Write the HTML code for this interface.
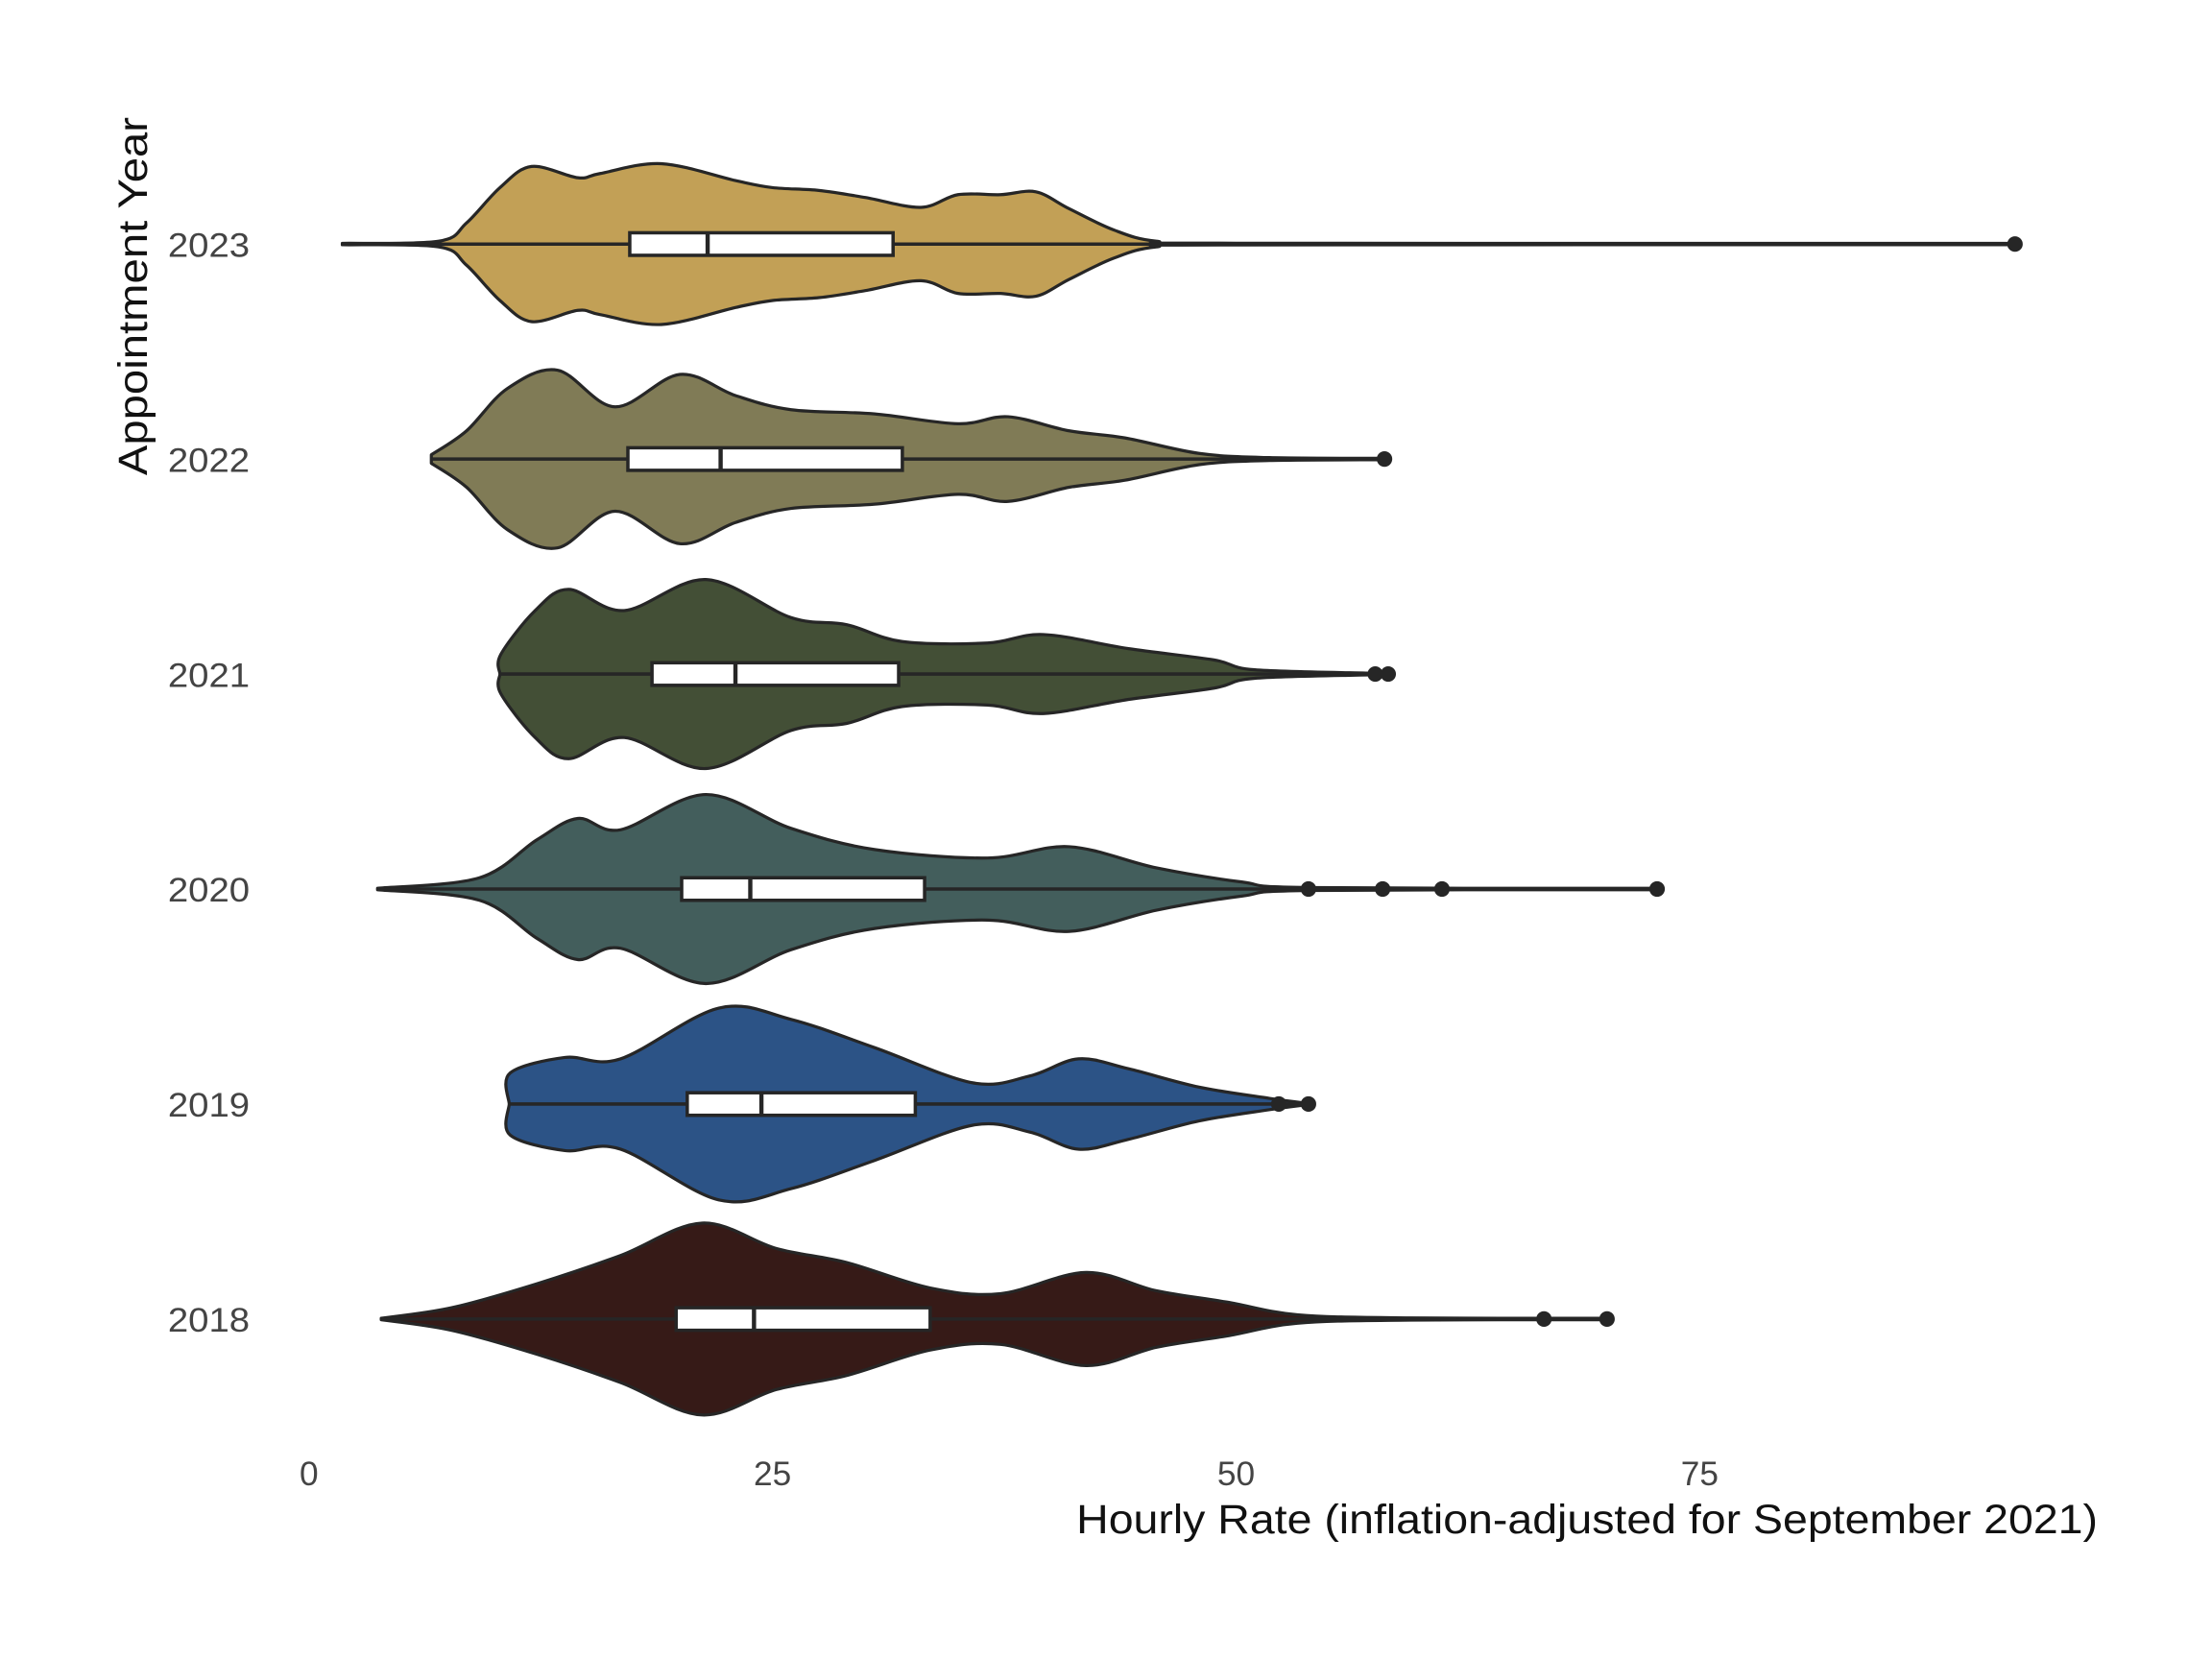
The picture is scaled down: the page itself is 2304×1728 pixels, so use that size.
<!DOCTYPE html>
<html><head><meta charset="utf-8"><style>
html,body{margin:0;padding:0;background:#fff;}
svg{display:block;}
text{font-family:"Liberation Sans",sans-serif;}
</style></head><body>
<svg id="chart" width="2304" height="1728" viewBox="0 0 1568 1176" xmlns="http://www.w3.org/2000/svg">
<g id="plot"></g>
<g id="xticks"></g>
<g id="yticks"></g>
<text x="1487" y="1087" text-anchor="end" font-size="29" fill="#111" textLength="724" lengthAdjust="spacingAndGlyphs">Hourly Rate (inflation-adjusted for September 2021)</text>
<text transform="translate(104,210) rotate(-90)" text-anchor="middle" font-size="29" fill="#111" textLength="254" lengthAdjust="spacingAndGlyphs">Appointment Year</text>
</svg>
<script>
const years = ["2023","2022","2021","2020","2019","2018"];
const colors = ["#C2A056","#807B56","#434F36","#435E5C","#2C5386","#361A17"];
const xTicks = [0,25,50,75];
const rates2023 = [1.8,7,8.5,10.3,12,14.5,15.7,19,23,25,27.5,30,33,35,37.3,39.2,41,43.4,45.7,50,92];
const dens2023  = [0.5,2,15,40,55,47,50,57,45,40,38,33,26,35,35,37,25,10,2,0.6,0.5];
const rates2022 = [6.6,8.5,10.7,13.4,16.5,20,23,26,30.5,35,37.7,41,44,48,51.8,58];
const dens2022  = [3,20,50,63,37,60,45,35,32,25,30,20,15,4,1,0.5];
const rates2021 = [10.3,10.35,12.2,14,17,21.4,26,29,32,36.6,39.6,44.2,48.8,51,57.5];
const dens2021  = [0,14,45,60,45,67,40,35,23,22,28,18,10,3,0.5];
const rates2020 = [3.7,9.2,12.3,14.5,16.8,21.4,26,30.5,36.6,41,45.7,50.3,54,72.7];
const dens2020  = [0.5,8,35,50,42,67,43,28,22,30,15,5,1,0.5];
const rates2019 = [10.8,10.85,13.8,16.8,22.1,26,30.5,35.8,38.9,41.5,44.2,48,51.8,53.8];
const dens2019  = [0,22,33,32,68,60,40,15,20,32,25,12,4,0.5];
const rates2018 = [3.9,7.7,12.3,16.8,21.2,25.2,29,33.5,37.3,41.9,45.7,49.5,53.3,59.4,70];
const dens2018  = [0.5,8,25,45,68,50,40,22,18,33,20,12,3,0.8,0.5];
const q1 = [17.3,17.2,18.5,20.1,20.4,19.8];
const med = [21.5,22.2,23.0,23.8,24.4,24.0];
const q3 = [31.5,32.0,31.8,33.2,32.7,33.5];
const wLo = [1.8,6.6,10.3,3.7,10.8,3.9];
const wHi = [92,58,57.5,72.7,53.8,70];
const outliers = [[92],[58],[57.5,58.2],[53.9,57.9,61.1,72.7],[52.3,53.9],[66.6,70]];
const allRates=[rates2023,rates2022,rates2021,rates2020,rates2019,rates2018];
const allDens=[dens2023,dens2022,dens2021,dens2020,dens2019,dens2018];

const NS="http://www.w3.org/2000/svg";
const x = v => 219 + v*13.145;
const y = i => 173 + i*152.4;
function mk(tag, attrs, parent){const e=document.createElementNS(NS,tag);for(const k in attrs)e.setAttribute(k,attrs[k]);parent.appendChild(e);return e;}
function smooth(pts){
  let d=`M${pts[0][0]},${pts[0][1]}`;
  for(let i=0;i<pts.length-1;i++){
    const p0=pts[i-1]||pts[i],p1=pts[i],p2=pts[i+1],p3=pts[i+2]||p2;
    const c1=[p1[0]+(p2[0]-p0[0])/6,p1[1]+(p2[1]-p0[1])/6];
    const c2=[p2[0]-(p3[0]-p1[0])/6,p2[1]-(p3[1]-p1[1])/6];
    d+=` C${c1[0]},${c1[1]} ${c2[0]},${c2[1]} ${p2[0]},${p2[1]}`;
  }
  return d;
}
const plot=document.getElementById('plot');
years.forEach((yr,i)=>{
  const g=mk('g',{},plot);
  
  
  const cy=y(i), r=allRates[i], dd=allDens[i];
  const top=r.map((v,k)=>[x(v),cy-dd[k]]);
  const bot=r.map((v,k)=>[x(v),cy+dd[k]]).reverse();
  let d=smooth(top)+' L'+bot[0][0]+','+bot[0][1]+' '+smooth(bot).slice(1)+' Z';
  const p=mk('path',{d:d,fill:colors[i],stroke:'#262626','stroke-width':2.2,'stroke-linejoin':'round'},g);
  
  
  const wl=mk('line',{x1:x(wLo[i]),x2:x(wHi[i]),y1:cy,y2:cy,stroke:'#262626','stroke-width':2.4},g);
  
  
  const b=mk('rect',{x:x(q1[i]),y:cy-8,width:x(q3[i])-x(q1[i]),height:16,fill:'#fff',stroke:'#262626','stroke-width':2.4},g);
  
  
  const m=mk('line',{x1:x(med[i]),x2:x(med[i]),y1:cy-8,y2:cy+8,stroke:'#262626','stroke-width':3},g);
  
  
  outliers[i].forEach(o=>{
    const c=mk('circle',{cx:x(o),cy:cy,r:5.5,fill:'#262626'},g);
    
    
  });
  const t=mk('text',{x:177,y:cy+9,'text-anchor':'end','font-size':24,fill:'#444',textLength:58,lengthAdjust:'spacingAndGlyphs'},document.getElementById('yticks'));
  t.textContent=yr;
  
  
});
xTicks.forEach(v=>{
  const t=mk('text',{x:x(v),y:1053,'text-anchor':'middle','font-size':24,fill:'#444'},document.getElementById('xticks'));
  t.textContent=v;
  
  
});
</script>
</body></html>
